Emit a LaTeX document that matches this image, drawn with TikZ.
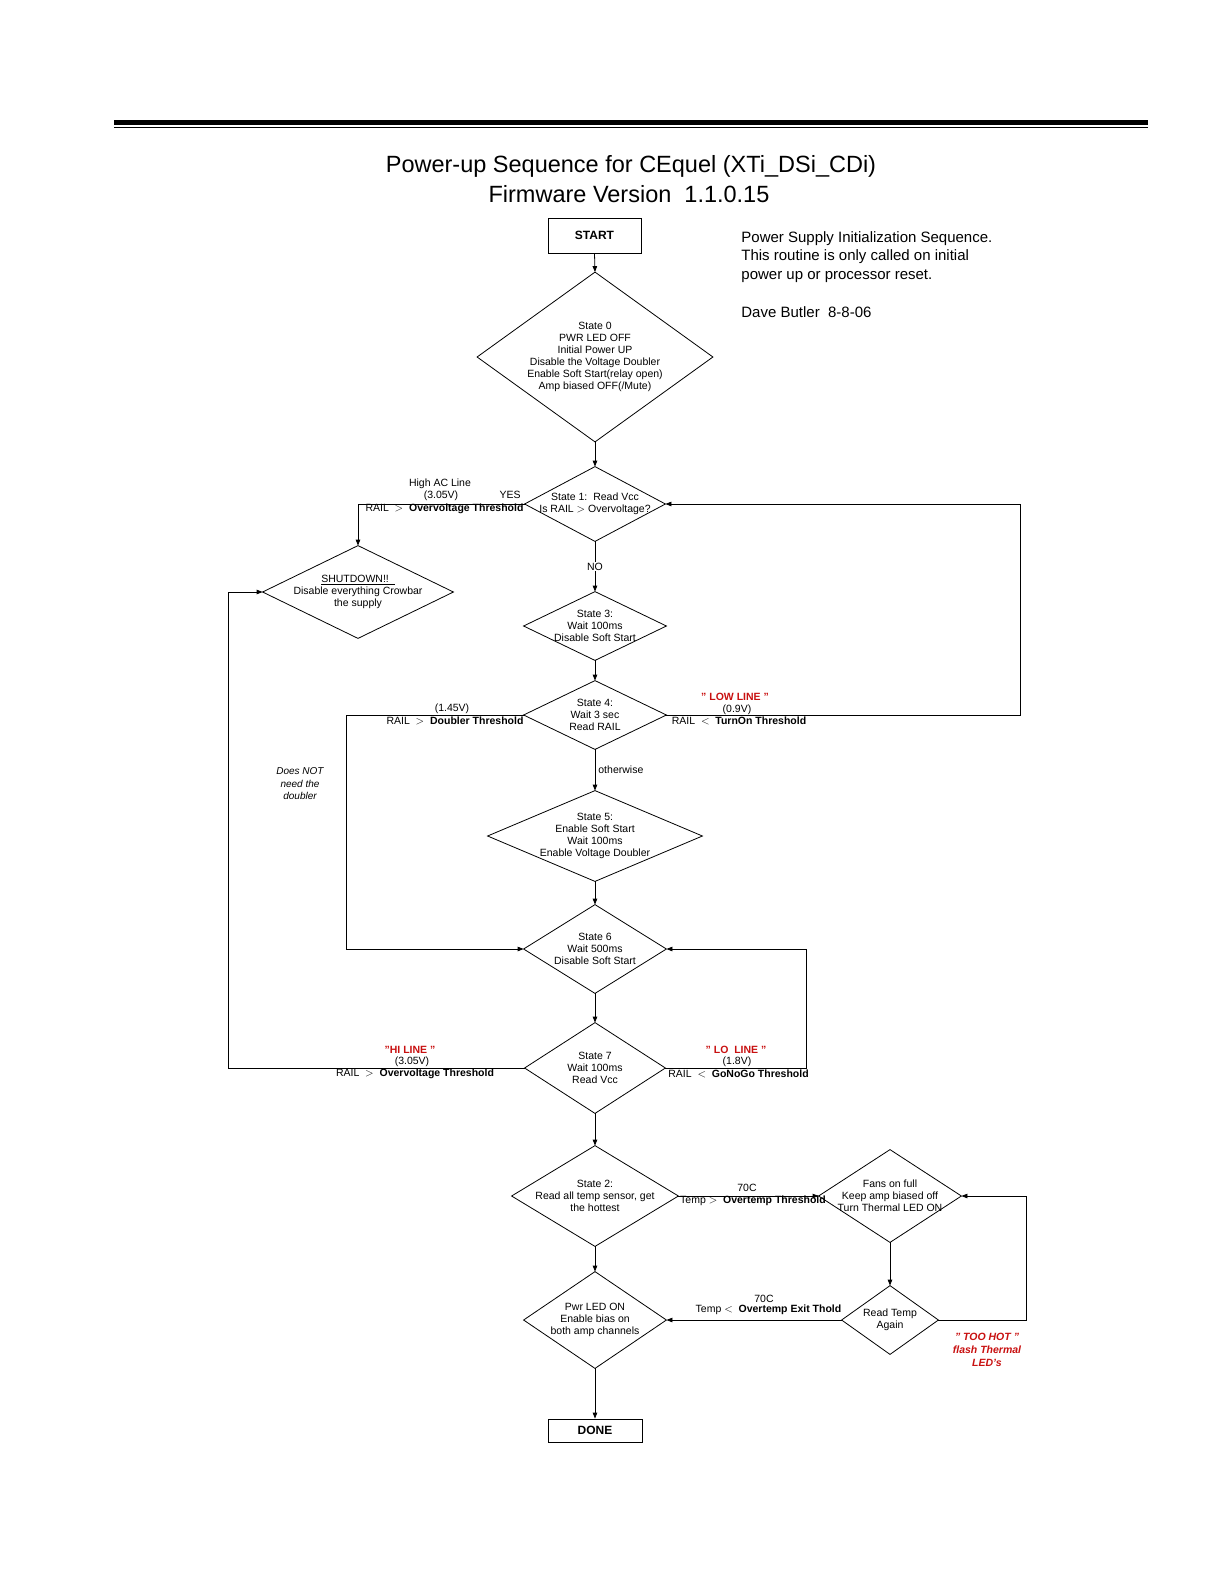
\documentclass[tikz,border=0pt]{standalone}
\usepackage{fontspec}
\setmainfont{Liberation Sans}
\usetikzlibrary{arrows.meta}
\definecolor{redl}{RGB}{200,16,16}
\newcommand{\mydia}[6]{%
  \node[dbox,minimum width=#4pt,minimum height=#5pt] (#1) at (#2,#3) {#6};
  \draw (#1.north) -- (#1.east) -- (#1.south) -- (#1.west) -- cycle;}
\begin{document}
\begin{tikzpicture}[x=1pt,y=-1pt,line width=0.8pt,
  arr/.style={-{Triangle[length=6pt,width=4.5pt]}},
  dbox/.style={rectangle,draw=none,inner sep=0pt,align=center,font=\fontsize{10.5}{12}\selectfont},
  sbox/.style={rectangle,draw,inner sep=0pt,font=\fontsize{12}{14}\selectfont\bfseries},
  lab/.style={inner sep=0pt,font=\fontsize{10.5}{12}\selectfont},
  rlab/.style={inner sep=0pt,text=redl,font=\fontsize{10.5}{12}\selectfont\bfseries},
  ilab/.style={inner sep=0pt,align=center,font=\fontsize{10}{12.5}\selectfont\itshape},
  note/.style={inner sep=0pt,anchor=west,font=\fontsize{15}{18}\selectfont},
  ttl/.style={inner sep=0pt,font=\fontsize{23.5}{28}\selectfont}]
\useasboundingbox (0,0) rectangle (1224,1584);
% top rule
\draw[line width=5pt] (114,122.5) -- (1148,122.5);
\draw[line width=1.5pt] (114,127.5) -- (1148,127.5);
% title
\node[ttl] (t1) at (631,166) {Power-up Sequence for CEquel (XTi\_DSi\_CDi)};
\node[ttl] (t2) at (629,194) {Firmware Version\ \ 1.1.0.15};
% note
\node[note] (n1) at (741,239) {Power Supply Initialization Sequence.};
\node[note] (n2) at (741,257) {This routine is only called on initial};
\node[note] (n3) at (741,276) {power up or processor reset.};
\node[note] (n4) at (741,312) {Dave Butler\ \ 8-8-06};
% boxes
\node[sbox,minimum width=93pt,minimum height=35pt] (start) at (594.5,235.5) {START};
\node[sbox,minimum width=94pt,minimum height=23pt] (done) at (595,1430.5) {DONE};
% diamonds
\mydia{s0}{595}{357}{235}{169}{State 0\\PWR LED OFF\\Initial Power UP\\Disable the Voltage Doubler\\Enable Soft Start(relay open)\\Amp biased OFF(/Mute)}
\mydia{s1}{595}{504}{140}{74}{State 1:\ \ Read Vcc\\Is RAIL $>$ Overvoltage?}
\mydia{shut}{358}{592}{190}{92}{\underline{SHUTDOWN!!\ \ }\\Disable everything Crowbar\\the supply}
\mydia{s3}{595}{626}{142}{68}{State 3:\\Wait 100ms\\Disable Soft Start}
\mydia{s4}{595}{715}{142}{68}{State 4:\\Wait 3 sec\\Read RAIL}
\mydia{s5}{595}{836}{214}{90}{State 5:\\Enable Soft Start\\Wait 100ms\\Enable Voltage Doubler}
\mydia{s6}{595}{949}{142}{88}{State 6\\Wait 500ms\\Disable Soft Start}
\mydia{s7}{595}{1068}{140}{90}{State 7\\Wait 100ms\\Read Vcc}
\mydia{s2}{595}{1196}{166}{100}{State 2:\\Read all temp sensor, get\\the hottest}
\mydia{fans}{890}{1196}{142}{92}{Fans on full\\Keep amp biased off\\Turn Thermal LED ON}
\mydia{rt}{890}{1320}{96}{68}{Read Temp\\Again}
\mydia{pwr}{595}{1320}{142}{96}{Pwr LED ON\\Enable bias on\\both amp channels}
% bend coordinates
\coordinate (b1) at (346,0);
\coordinate (b2) at (1020,0);
\coordinate (b3) at (228,0);
\coordinate (b4) at (806,0);
\coordinate (b5) at (1026,0);
% connectors
\draw[arr] (start.south) -- (s0.north);
\draw[arr] (s0.south) -- (s1.north);
\draw[arr] (s1.west) -| (shut.north);
\draw[arr] (s1.south) -- node[lab,fill=white,inner sep=1pt] (no) {NO} (s3.north);
\draw[arr] (s3.south) -- (s4.north);
\draw[arr] (s4.west) -- (s4.west -| b1) |- (s6.west);
\draw[arr] (s4.east) -- (s4.east -| b2) |- (s1.east);
\draw[arr] (s4.south) -- node[lab,anchor=west,xshift=3pt] (oth) {otherwise} (s5.north);
\draw[arr] (s5.south) -- (s6.north);
\draw[arr] (s6.south) -- (s7.north);
\draw[arr] (s7.west) -- (s7.west -| b3) |- (shut.west);
\draw[arr] (s7.east) -- (s7.east -| b4) |- (s6.east);
\draw[arr] (s7.south) -- (s2.north);
\draw[arr] (s2.east) -- (fans.west);
\draw[arr] (fans.south) -- (rt.north);
\draw[arr] (rt.west) -- (pwr.east);
\draw[arr] (rt.east) -- (rt.east -| b5) |- (fans.east);
\draw[arr] (s2.south) -- (pwr.north);
\draw[arr] (pwr.south) -- (done.north);
% labels
\node[lab] (l1) at (440,484) {High AC Line};
\node[lab] (l2) at (441,496) {(3.05V)};
\node[lab] (l3) at (510,495) {YES};
\node[lab] (l4) at (444.5,509) {RAIL\ \ $>$\ \ \textbf{Overvoltage Threshold}};
\node[lab] (l5) at (452,709) {(1.45V)};
\node[lab] (l6) at (455,721) {RAIL\ \ $>$\ \ \textbf{Doubler Threshold}};
\node[rlab] (l7) at (735,697) {" LOW LINE "};
\node[lab] (l8) at (737,710) {(0.9V)};
\node[lab] (l9) at (739,721) {RAIL\ \ $<$\ \ \textbf{TurnOn Threshold}};
\node[ilab] (l10) at (300,784) {Does NOT\\need the\\doubler};
\node[rlab] (l11) at (410,1050) {"HI LINE "};
\node[lab] (l12) at (412,1062) {(3.05V)};
\node[lab] (l13) at (415,1074) {RAIL\ \ $>$\ \ \textbf{Overvoltage Threshold}};
\node[rlab] (l14) at (736,1050) {" LO\ \ LINE "};
\node[lab] (l15) at (737,1062) {(1.8V)};
\node[lab] (l16) at (738.5,1074) {RAIL\ \ $<$\ \ \textbf{GoNoGo Threshold}};
\node[lab] (l17) at (747,1188) {70C};
\node[lab] (l18) at (753,1201) {Temp $>$\ \ \textbf{Overtemp Threshold}};
\node[lab] (l19) at (764,1299) {70C};
\node[lab] (l20) at (768.5,1310) {Temp $<$\ \ \textbf{Overtemp Exit Thold}};
\node[rlab,align=center,font=\fontsize{10.5}{13}\selectfont\bfseries\itshape] (l21) at (987,1350) {" TOO HOT "\\flash Thermal\\LED's};
\end{tikzpicture}
\end{document}
